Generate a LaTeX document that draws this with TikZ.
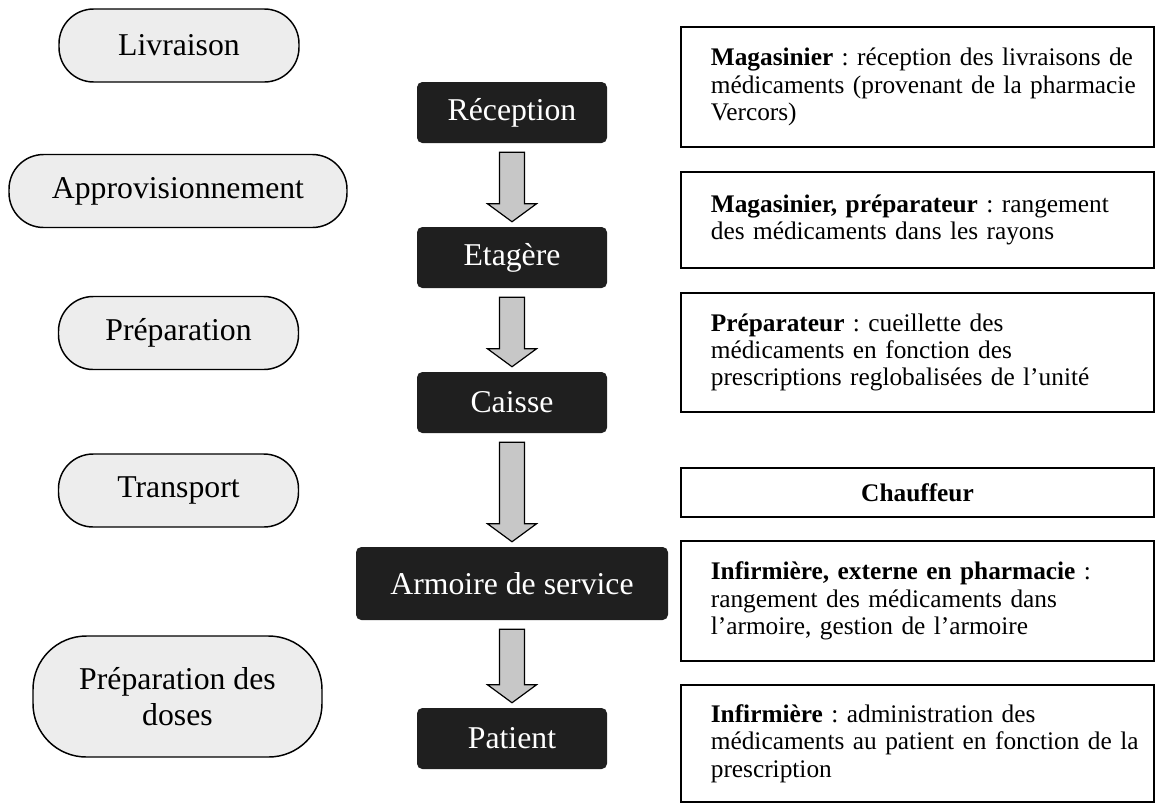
\documentclass[tikz,border=0pt]{standalone}
\usepackage{fontspec}
\setmainfont{Liberation Serif}
\usepackage{tikz}
\usetikzlibrary{positioning,calc}
\frenchspacing

\definecolor{phasegray}{gray}{0.93}
\definecolor{placedark}{gray}{0.12}
\definecolor{arrowgray}{gray}{0.78}

\tikzset{phase/.style={draw, line width=1.1pt, fill=phasegray, rounded corners=26pt,
    minimum width=180pt, minimum height=54.75pt, align=center,
    font=\fontsize{23.8}{27.4}\selectfont},
  place/.style={fill=placedark, text=white, rounded corners=4pt,
    minimum width=142.5pt, minimum height=45.75pt,
    font=\fontsize{23.8}{27.4}\selectfont},
  role/.style={draw, line width=1.1pt, text width=350pt, inner xsep=2.5pt,
    inner ysep=0pt, align=center, font=\fontsize{19}{20.5}\selectfont},
  roletext/.style={role, align=left, execute at begin node={\leftskip=20pt}},
  flowarr/.style={draw, line width=0.9pt, fill=arrowgray, line join=miter}
}

% block arrow from the bottom of one place to the top of the next
\newcommand{\flowarrow}[2]{%
  \path[flowarr] let \p1=(#1.south), \p2=(#2.north) in
    (\x1-9.4pt,\y1-6.75pt) -- (\x1+9.4pt,\y1-6.75pt) -- (\x1+9.4pt,\y2+17.25pt)
    -- (\x1+18.4pt,\y2+17.25pt) -- (\x1,\y2+3.75pt) -- (\x1-18.4pt,\y2+17.25pt)
    -- (\x1-9.4pt,\y2+17.25pt) -- cycle;}

\begin{document}
\begin{tikzpicture}[x=0.75pt, y=-0.75pt, node distance=108.75pt, on grid]
    \useasboundingbox (0,0) rectangle (1163,804);

    % phases
    \node[phase]                        (liv) at (179,45.5)  {Livraison};
    \node[phase, minimum width=253.5pt] (app) at (178,191)   {Approvisionnement};
    \node[phase]                        (pre) at (178.5,333) {Préparation};
    \node[phase]                        (tra) at (178.5,490.5) {Transport};
    \node[phase, minimum width=216.75pt, minimum height=90.75pt, rounded corners=40pt]
                                        (dos) at (177.5,696.5) {Préparation des\\doses};

    % places
    \node[place] (rec) at (512,112.5)  {Réception};
    \node[place] (eta) [below=of rec]  {Etagère};
    \node[place] (cai) [below=of eta]  {Caisse};
    \node[place, minimum width=234pt, minimum height=54.75pt]
                 (arm) [below=135.75pt of cai] {Armoire de service};
    \node[place] (pat) [below=116.25pt of arm] {Patient};

    \foreach \a/\b in {rec/eta, eta/cai, cai/arm, arm/pat}
        \flowarrow{\a}{\b};

    % roles
    \node[roletext, minimum height=90pt]    (r_1) at (917.5,87)
        {\textbf{Magasinier} : réception des livraisons de\\médicaments (provenant de la pharmacie\\Vercors)};
    \node[roletext, minimum height=72pt]    (r_2) at (917.5,220)
        {\textbf{Magasinier, préparateur} : rangement\\des médicaments dans les rayons};
    \node[roletext, minimum height=89.25pt] (r_3) at (917.5,352.5)
        {\textbf{Préparateur} : cueillette des\\médicaments en fonction des\\prescriptions reglobalisées de l’unité};
    \node[role, minimum height=36.75pt]     (r_4) at (917.5,492.5)
        {\textbf{Chauffeur}};
    \node[roletext, minimum height=90pt]    (r_5) at (917.5,601)
        {\textbf{Infirmière, externe en pharmacie} :\\rangement des médicaments dans\\l’armoire, gestion de l’armoire};
    \node[roletext, minimum height=87.75pt] (r_6) at (917.5,743.5)
        {\textbf{Infirmière} : administration des\\médicaments au patient en fonction de la\\prescription};
\end{tikzpicture}
\end{document}
